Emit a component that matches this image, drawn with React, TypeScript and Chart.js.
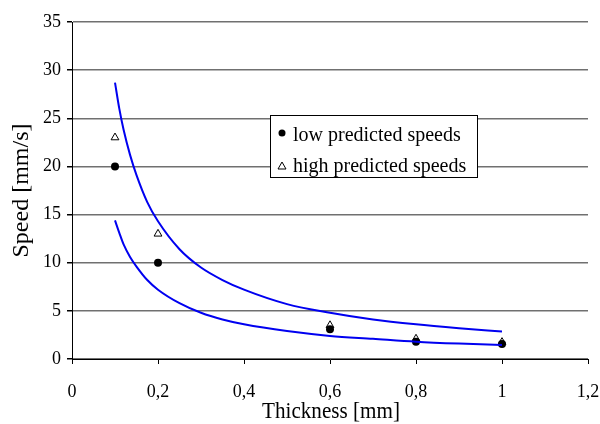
import React, { useEffect, useRef } from "react";
import { Chart, registerables } from "chart.js";

Chart.register(...registerables);

// Measured points
const thicknessPoints = [0.1, 0.2, 0.6, 0.8, 1.0];
const lowSpeeds = [20, 10, 3.1, 1.8, 1.55];
const highSpeeds = [23, 13, 3.5, 2.1, 1.75];

// Curves
const curveX = [0.1, 0.11, 0.12, 0.135, 0.15, 0.175, 0.2, 0.25, 0.3, 0.35, 0.4, 0.5, 0.6, 0.7, 0.8, 0.9, 1.0];
const upperCurve = [28.7, 26.0, 23.8, 21.2, 19.1, 16.3, 14.3, 11.4, 9.5, 8.2, 7.2, 5.7, 4.8, 4.1, 3.6, 3.2, 2.85];
const lowerCurve = [14.4, 13.1, 11.9, 10.6, 9.6, 8.2, 7.2, 5.8, 4.8, 4.1, 3.6, 2.9, 2.4, 2.1, 1.8, 1.6, 1.45];

const xTicks = [0, 0.2, 0.4, 0.6, 0.8, 1, 1.2];
const yTicks = [0, 5, 10, 15, 20, 25, 30, 35];

const legendLabels = ["low predicted speeds", "high predicted speeds"];
const xTitle = "Thickness [mm]";
const yTitle = "Speed [mm/s]";

const FONT = "'Liberation Serif', 'Times New Roman', serif";

const toXY = (xs: number[], ys: number[]) => xs.map((x, i) => ({ x, y: ys[i] }));

const legendPlugin = {
  id: "boxLegend",
  afterDraw(chart: any) {
    const ctx = chart.ctx;
    const left = 270, top = 115, w = 207, h = 62;
    ctx.save();
    ctx.fillStyle = "#fff";
    ctx.fillRect(left, top, w, h);
    ctx.strokeStyle = "#000";
    ctx.lineWidth = 1;
    ctx.strokeRect(left + 0.5, top + 0.5, w, h);
    ctx.font = `20px ${FONT}`;
    ctx.fillStyle = "#000";
    ctx.textBaseline = "alphabetic";
    ctx.textAlign = "left";
    ctx.beginPath();
    ctx.arc(left + 12, top + 18, 3.5, 0, Math.PI * 2);
    ctx.fill();
    ctx.fillText(legendLabels[0], left + 23, top + 26);
    const cy = top + 51;
    ctx.beginPath();
    ctx.moveTo(left + 12, cy - 4);
    ctx.lineTo(left + 16, cy + 3);
    ctx.lineTo(left + 8, cy + 3);
    ctx.closePath();
    ctx.stroke();
    ctx.fillText(legendLabels[1], left + 23, top + 57);
    ctx.restore();
  },
};

const titlesPlugin = {
  id: "axisTitles",
  afterDraw(chart: any) {
    const ctx = chart.ctx;
    const area = chart.chartArea;
    ctx.save();
    ctx.fillStyle = "#000";
    ctx.font = `24px ${FONT}`;
    ctx.textAlign = "center";
    ctx.textBaseline = "alphabetic";
    const cx = (area.left + area.right) / 2 + 1;
    ctx.save();
    ctx.translate(cx, 418);
    ctx.scale(0.88, 1);
    ctx.fillText(xTitle, 0, 0);
    ctx.restore();
    const cy = (area.top + area.bottom) / 2;
    ctx.save();
    ctx.translate(28, cy);
    ctx.rotate(-Math.PI / 2);
    ctx.fillText(yTitle, 0, 0);
    ctx.restore();
    ctx.restore();
  },
};

const zeroPad = (s: any) => {
  s.paddingLeft = 0;
  s.paddingRight = 0;
  s.paddingTop = 0;
  s.paddingBottom = 0;
};

export default function App() {
  const ref = useRef<HTMLCanvasElement | null>(null);
  useEffect(() => {
    if (!ref.current) return;
    const chart = new Chart(ref.current, {
      type: "scatter",
      data: {
        datasets: [
          {
            label: "upper",
            data: toXY(curveX, upperCurve),
            showLine: true,
            borderColor: "#0000f0",
            borderWidth: 2,
            pointRadius: 0,
            cubicInterpolationMode: "monotone",
          },
          {
            label: "lower",
            data: toXY(curveX, lowerCurve),
            showLine: true,
            borderColor: "#0000f0",
            borderWidth: 2,
            pointRadius: 0,
            cubicInterpolationMode: "monotone",
          },
          {
            label: legendLabels[0],
            data: toXY(thicknessPoints, lowSpeeds),
            pointStyle: "circle",
            pointRadius: 4,
            backgroundColor: "#000",
            borderColor: "#000",
            borderWidth: 0,
          },
          {
            label: legendLabels[1],
            data: toXY(thicknessPoints, highSpeeds),
            pointStyle: "triangle",
            pointRadius: 4.5,
            backgroundColor: "rgba(255,255,255,0)",
            borderColor: "#000",
            borderWidth: 1,
          },
        ],
      } as any,
      options: {
        animation: false,
        responsive: true,
        maintainAspectRatio: false,
        layout: { padding: { top: 22, right: 12, left: 0, bottom: 0 } },
        plugins: { legend: { display: false }, tooltip: { enabled: false } },
        scales: {
          x: {
            type: "linear",
            min: 0,
            max: 1.2,
            afterBuildTicks: (axis: any) => {
              axis.ticks = xTicks.map((v) => ({ value: v }));
            },
            afterFit: (s: any) => {
              s.height = 65;
              zeroPad(s);
            },
            ticks: {
              color: "#000",
              font: { family: FONT, size: 18 },
              padding: 17,
              maxRotation: 0,
              callback: (v: any) => String(Number(v)).replace(".", ","),
            },
            grid: { drawOnChartArea: false, drawTicks: true, tickLength: 5, tickColor: "#000" },
            border: { color: "#000", width: 1 },
          },
          y: {
            type: "linear",
            min: 0,
            max: 35,
            afterBuildTicks: (axis: any) => {
              axis.ticks = yTicks.map((v) => ({ value: v }));
            },
            afterFit: (s: any) => {
              s.width = 72;
              zeroPad(s);
            },
            ticks: {
              color: "#000",
              font: { family: FONT, size: 18 },
              padding: 6,
            },
            grid: { color: "#707070", lineWidth: 1.5, drawTicks: true, tickLength: 5, tickColor: "#000" },
            border: { color: "#000", width: 1 },
          },
        },
      } as any,
      plugins: [legendPlugin, titlesPlugin],
    });
    return () => chart.destroy();
  }, []);
  return (
    <div style={{ position: "fixed", left: 0, top: 0, width: 600, height: 424, background: "#fff" }}>
      <canvas ref={ref} />
    </div>
  );
}
